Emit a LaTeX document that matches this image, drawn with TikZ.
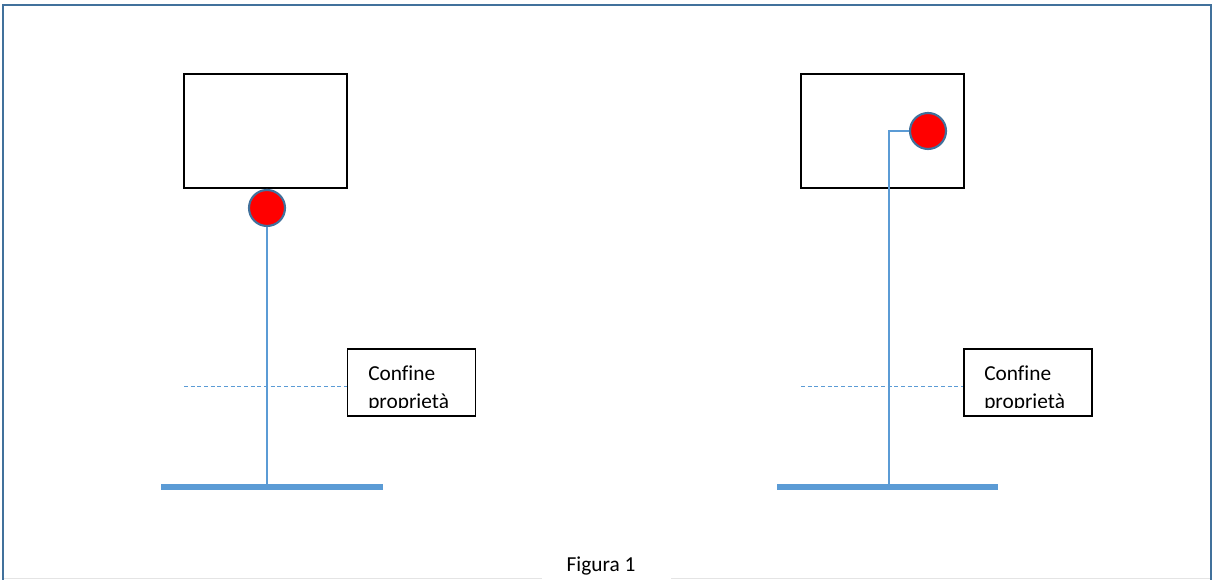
\documentclass[tikz,border=0pt]{standalone}
\usepackage{fontspec}
\setmainfont[Ligatures=NoCommon]{Carlito}
\definecolor{frameblue}{HTML}{41719C}
\definecolor{lineblue}{HTML}{5B9BD5}
\definecolor{faintgray}{HTML}{E4E4E4}
\begin{document}
\begin{tikzpicture}[x=0.75pt,y=-0.75pt,
  housebox/.style={draw=black,line width=1.5pt,minimum width=122.25pt,minimum height=85.5pt,inner sep=0pt},
  labelbox/.style={draw=black,line width=1.1pt,minimum width=96pt,minimum height=50.25pt,inner sep=0pt},
  meter/.style={circle,draw=frameblue,line width=1.6pt,fill=red,minimum size=27pt,inner sep=0pt},
  pipe/.style={draw=lineblue,line width=1.1pt},
  ground/.style={draw=lineblue,line width=3.8pt},
  boundary/.style={draw=lineblue,line width=0.6pt,dash pattern=on 3pt off 2pt},
  txt/.style={font=\fontsize{16}{19}\selectfont,inner sep=0pt,anchor=base west}
]
\useasboundingbox (0,0) rectangle (1214,580);
% outer frame
\draw[faintgray,line width=0.8pt] (3,578.5) -- (542,578.5) (671,578.5) -- (1211,578.5);
\draw[frameblue,line width=2.2pt] (3,580) -- (3,5) -- (1211,5) -- (1211,580);

% ---- left figure ----
\node[housebox] (lh) at (265.5,131) {};
\coordinate (lgl) at (161,487);
\coordinate (lgr) at (383,487);
\coordinate (lg) at (267,487);
\coordinate (ldl) at (184,386);
\coordinate (ldr) at (347,386);
\draw[boundary] (ldl) -- (ldr);
\node[meter] (lm) at (267,208) {};
\draw[pipe] (lm.south) -- (lg);
\draw[ground] (lgl) -- (lgr);
\node[labelbox] (ll) at (411.5,382.5) {};
\begin{scope}
\clip (350,352) rectangle (473,408);
\node[txt] (llt1) at (368,381) {Confine};
\node[txt] (llt2) at (368,409) {proprietà};
\end{scope}

% ---- right figure ----
\node[housebox] (rh) at (882.5,131) {};
\coordinate (rgl) at (777,487);
\coordinate (rgr) at (998,487);
\coordinate (rg) at (889,487);
\coordinate (rdl) at (801,386);
\coordinate (rdr) at (964,386);
\draw[boundary] (rdl) -- (rdr);
\node[meter] (rm) at (928,131) {};
\draw[pipe] (rm.west) -| (rg);
\draw[ground] (rgl) -- (rgr);
\node[labelbox] (rl) at (1028,382.5) {};
\begin{scope}
\clip (966,352) rectangle (1090,408);
\node[txt] (rlt1) at (984,381) {Confine};
\node[txt] (rlt2) at (984,409) {proprietà};
\end{scope}

\node[txt,anchor=base] (cap) at (601,571) {Figura 1};
\end{tikzpicture}
\end{document}
